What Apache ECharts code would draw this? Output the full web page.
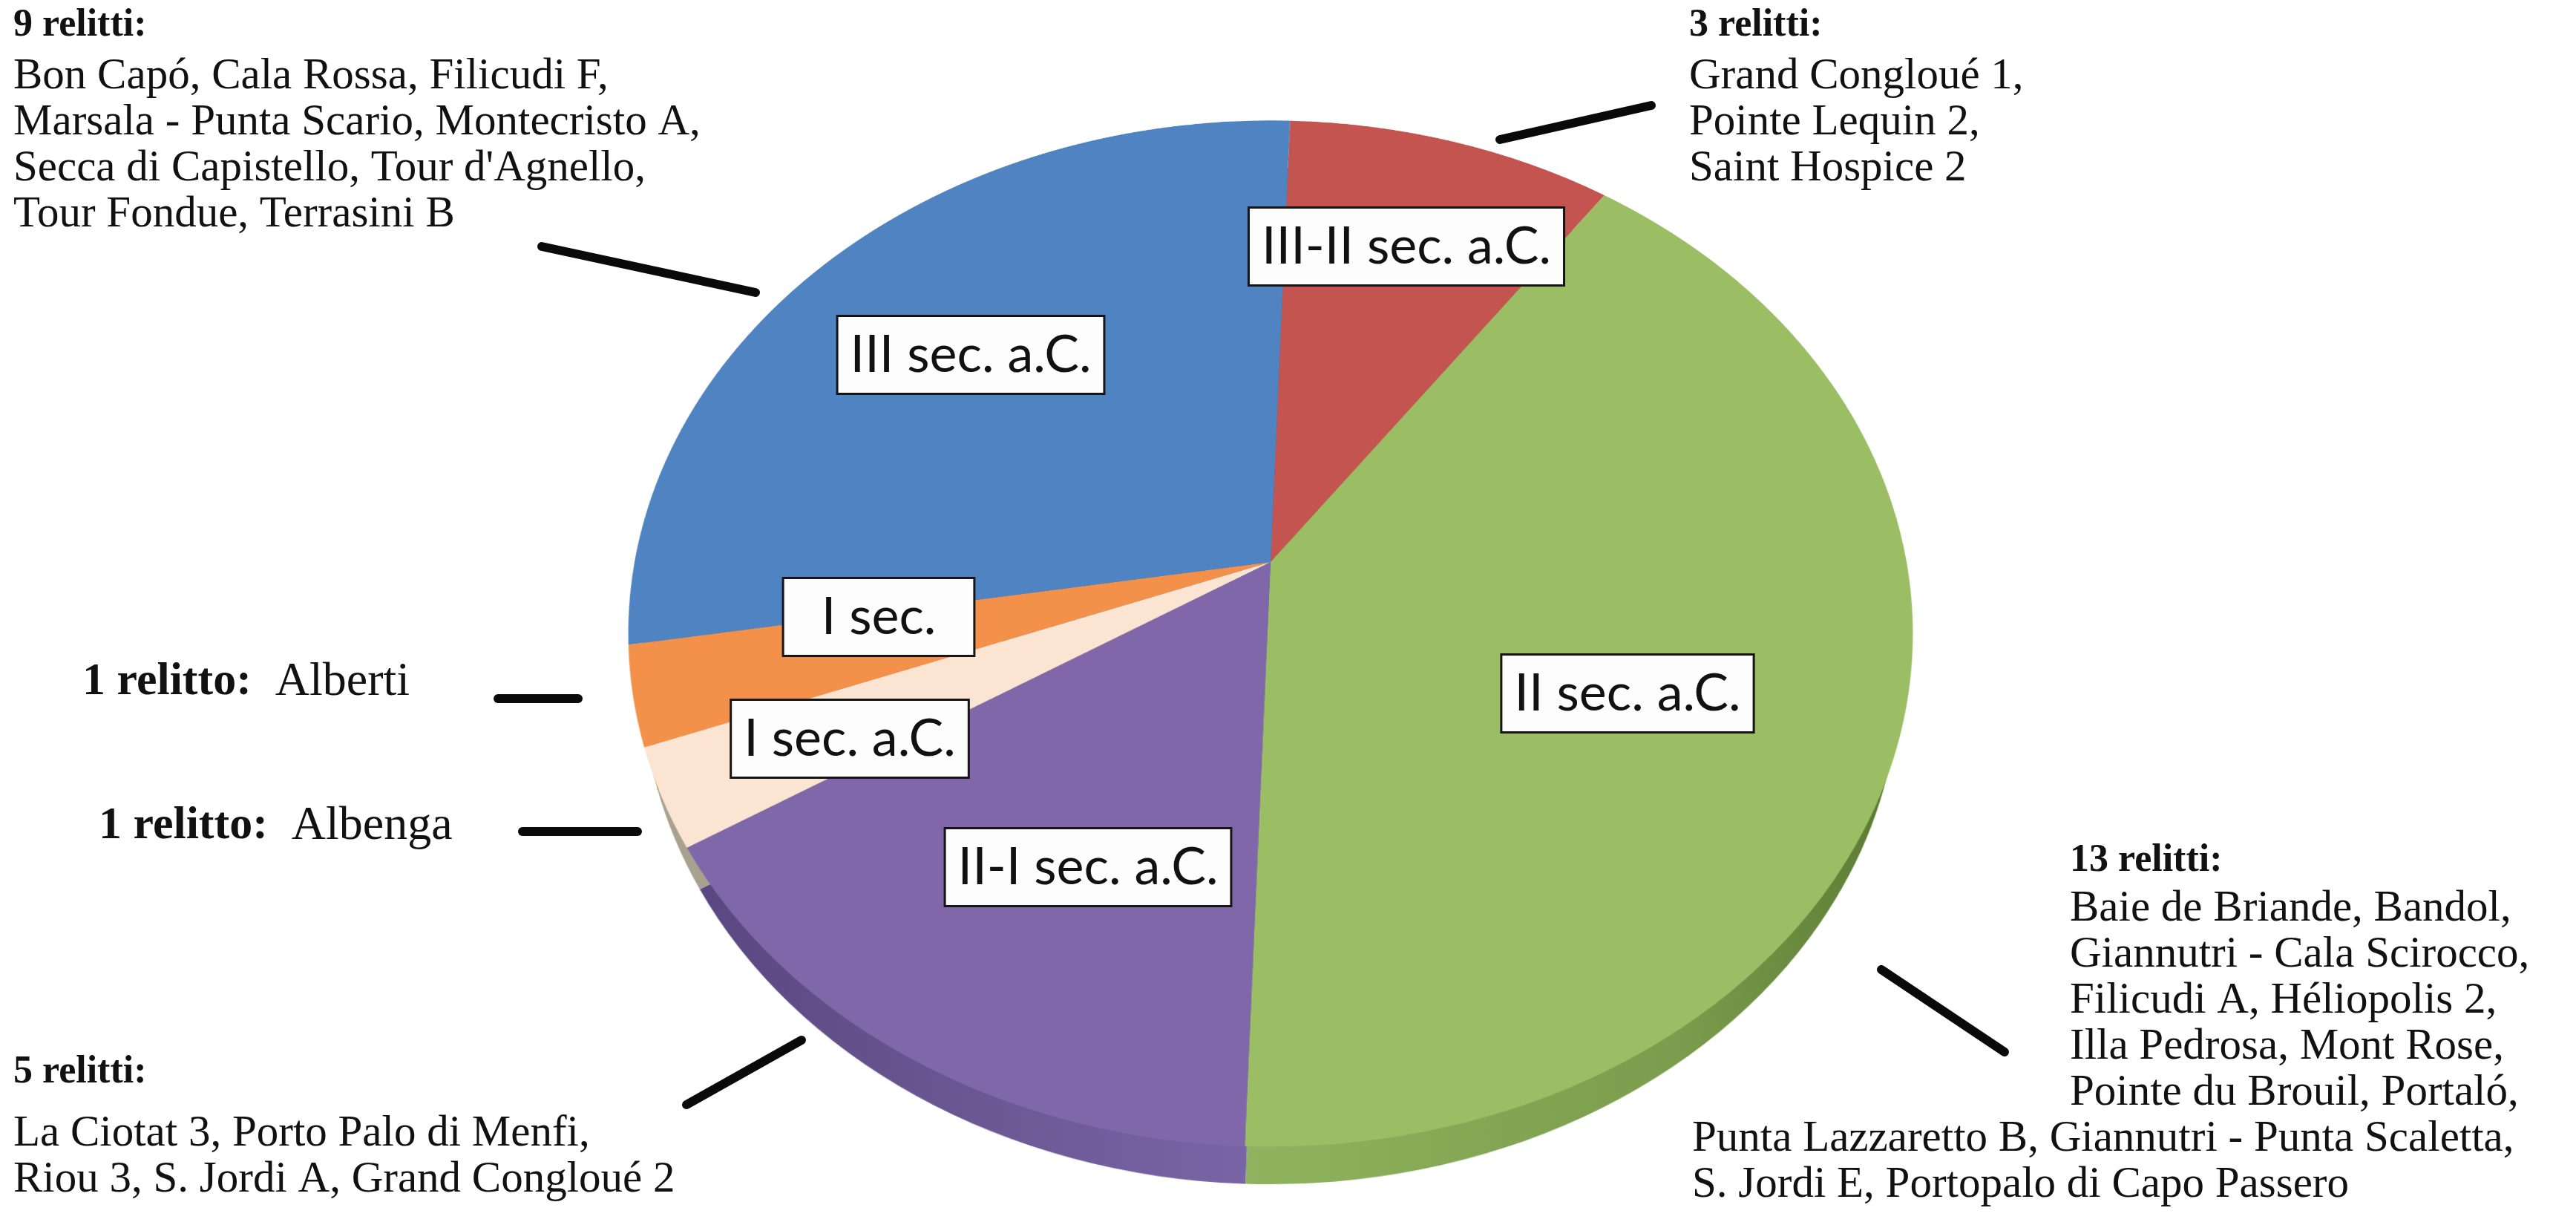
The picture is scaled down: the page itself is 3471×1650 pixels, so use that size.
<!DOCTYPE html>
<html><head><meta charset="utf-8">
<script src="https://cdn.jsdelivr.net/npm/echarts/dist/echarts.min.js"></script>
<style>
html,body{margin:0;padding:0;background:#fff;width:3471px;height:1650px;overflow:hidden;}
.disk{position:absolute;width:1800px;height:1800px;left:812px;top:-143px;transform-origin:50% 50%;}
#top{transform:perspective(3762px) rotateX(37.75deg);}
#side{transform:perspective(3762px) rotateX(37.75deg) translateZ(-100px);}
#over{position:absolute;left:0;top:0;width:3471px;height:1650px;}
</style></head>
<body>
<div id="side" class="disk"></div><div id="top" class="disk"></div><div id="over"></div>
<script>
// ---- data ----
const categories = ['III-II sec. a.C.', 'II sec. a.C.', 'II-I sec. a.C.', 'I sec. a.C.', 'I sec.', 'III sec. a.C.'];
const counts = [3, 13, 5, 1, 1, 9];
const groupTitles = ['3 relitti:', '13 relitti:', '5 relitti:', '1 relitto:', '1 relitto:', '9 relitti:'];
const groupWrecks = [
  ['Grand Congloué 1,', 'Pointe Lequin 2,', 'Saint Hospice 2'],
  ['Baie de Briande, Bandol,', 'Giannutri - Cala Scirocco,', 'Filicudi A, Héliopolis 2,', 'Illa Pedrosa, Mont Rose,', 'Pointe du Brouil, Portaló,', 'Punta Lazzaretto B, Giannutri - Punta Scaletta,', 'S. Jordi E, Portopalo di Capo Passero'],
  ['La Ciotat 3, Porto Palo di Menfi,', 'Riou 3, S. Jordi A, Grand Congloué 2'],
  ['Albenga'],
  ['Alberti'],
  ['Bon Capó, Cala Rossa, Filicudi F,', 'Marsala - Punta Scario, Montecristo A,', 'Secca di Capistello, Tour d\'Agnello,', 'Tour Fondue, Terrasini B']
];

// ---- styles ----
const faceColors = ['#C4544F', '#9BBE65', '#8067A9', '#FBE4D2', '#F3914A', '#4F83C2'];
const G = echarts.graphic.LinearGradient;
const sideColors = [
  '#96403C',
  new G(0, 0, 1, 0, [{offset: 0, color: '#8FB35E'}, {offset: 0.6, color: '#7A9C4C'}, {offset: 1, color: '#56752F'}]),
  new G(0, 0, 1, 0, [{offset: 0, color: '#5A4780'}, {offset: 1, color: '#7A66A6'}]),
  '#A9A190',
  '#B06A35',
  '#3B6696'
];
const pieRadius = 857;
const startAngle = 88;

function pieOption(colors) {
  return {
    animation: false,
    series: [{
      type: 'pie', center: ['50%', '50%'], radius: [0, pieRadius],
      startAngle: startAngle, clockwise: true, silent: true,
      label: {show: false}, labelLine: {show: false}, emphasis: {disabled: true},
      itemStyle: {borderWidth: 0},
      data: categories.map((c, i) => ({name: c, value: counts[i], itemStyle: {color: colors[i]}}))
    }]
  };
}
echarts.init(document.getElementById('side')).setOption(pieOption(sideColors));
echarts.init(document.getElementById('top')).setOption(pieOption(faceColors));

// ---- overlay: slice labels and annotations ----
const boxPos = [[1895, 332], [2193, 934], [1466, 1168], [1145, 995], [1184, 831], [1308, 478]];
const boxPad = [[10, 16], [10, 16], [10, 16], [10, 16], [10, 50], [10, 16]];
const serif = '"Liberation Serif", "Times New Roman", serif';
const sans = 'Lato, "Open Sans", sans-serif';
const txtSize = 59, lh = 62, titleSize = 52;
const graphics = [];
categories.forEach((c, i) => {
  graphics.push({type: 'text', x: boxPos[i][0], y: boxPos[i][1], z: 10, style: {
    text: c, fontFamily: sans, fontSize: 70, lineHeight: 82, fill: '#111',
    align: 'center', verticalAlign: 'middle', backgroundColor: '#FDFDFD',
    borderColor: '#151515', borderWidth: 3, padding: boxPad[i]
  }});
});
const rich = {
  b: {fontFamily: serif, fontSize: titleSize, lineHeight: lh, fontWeight: 'bold', fill: '#111'},
  n: {fontFamily: serif, fontSize: txtSize, lineHeight: lh, fill: '#111'}
};
function block(x, y, lines, bold) {
  const text = lines.map(l => (bold ? '{b|' : '{n|') + l + '}').join('\n');
  graphics.push({type: 'text', x: x, y: y, z: 10, style: {
    text: text, fontFamily: serif, fontSize: txtSize, lineHeight: lh, fill: '#111', align: 'left', verticalAlign: 'top', rich: rich
  }});
}
function inline(x, y, title, rest) {
  graphics.push({type: 'text', x: x, y: y, z: 10, style: {
    text: '{b|' + title + '}{n|  ' + rest + '}', fontFamily: serif, fontSize: 64, fill: '#111', align: 'left', verticalAlign: 'middle',
    rich: {b: {fontFamily: serif, fontSize: 62, fontWeight: 'bold', fill: '#111'},
           n: {fontFamily: serif, fontSize: 64, fill: '#111'}}
  }});
}
// 9 relitti (top-left)
block(18, 4, [groupTitles[5]], true);
block(18, 72, groupWrecks[5], false);
// 3 relitti (top-right)
block(2276, 4, [groupTitles[0]], true);
block(2276, 72, groupWrecks[0], false);
// 1 relitto lines
inline(111, 919, groupTitles[4], groupWrecks[4][0]);
inline(133, 1113, groupTitles[3], groupWrecks[3][0]);
// 5 relitti
block(18, 1414, [groupTitles[2]], true);
block(18, 1496, groupWrecks[2], false);
// 13 relitti
block(2789, 1129, [groupTitles[1]], true);
block(2789, 1193, groupWrecks[1].slice(0, 5), false);
block(2280, 1503, groupWrecks[1].slice(5), false);

const leaders = [[730, 332, 1018, 394], [2021, 188, 2225, 142], [671, 941, 779, 941], [704, 1120, 859, 1120], [925, 1488, 1080, 1401], [2535, 1306, 2701, 1417]];
leaders.forEach(l => graphics.push({type: 'line', z: 10, shape: {x1: l[0], y1: l[1], x2: l[2], y2: l[3]},
  style: {stroke: '#0a0a0a', lineWidth: 12, lineCap: 'round'}}));

echarts.init(document.getElementById('over')).setOption({animation: false, graphic: {elements: graphics}});
</script>
</body></html>
